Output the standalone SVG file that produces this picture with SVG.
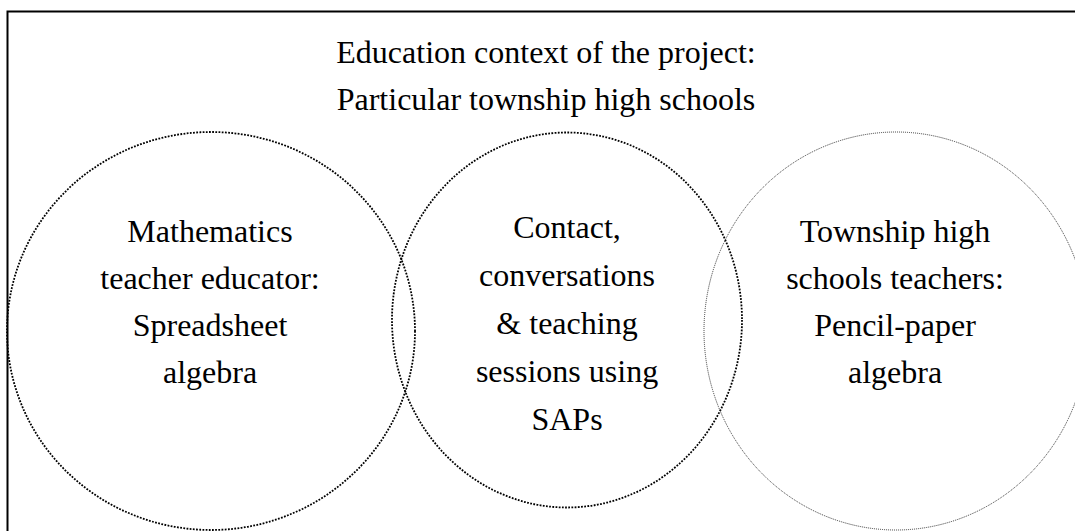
<svg xmlns="http://www.w3.org/2000/svg" width="1075" height="531" viewBox="0 0 1075 531">
  <style>
    .frame { fill: none; stroke: #000; stroke-width: 2; }
    .ring { fill: none; stroke: #000; stroke-width: 1.8; stroke-dasharray: 1.8 1.4; }
    .ring-thin { fill: none; stroke: #333; stroke-width: 1; stroke-dasharray: 1 1; }
    .label { font-family: "Liberation Serif", "Times New Roman", serif; font-size: 32px; fill: #000; text-anchor: middle; }
  </style>
  <rect width="1075" height="531" fill="#fff"/>

  <!-- outer context frame (runs past the right and bottom edges) -->
  <g id="context">
    <rect class="frame" x="7.5" y="11.5" width="1080" height="530"/>
    <text class="label" x="546" y="63">Education context of the project:</text>
    <text class="label" x="546" y="110">Particular township high schools</text>
  </g>

  <g id="educator">
    <ellipse class="ring" cx="211" cy="331" rx="204" ry="199"/>
    <text class="label" x="210" y="242">Mathematics</text>
    <text class="label" x="210" y="289">teacher educator:</text>
    <text class="label" x="210" y="336">Spreadsheet</text>
    <text class="label" x="210" y="383">algebra</text>
  </g>

  <g id="sessions">
    <ellipse class="ring" cx="567" cy="320" rx="175" ry="187.5"/>
    <text class="label" x="567" y="238">Contact,</text>
    <text class="label" x="567" y="286">conversations</text>
    <text class="label" x="567" y="334">&amp; teaching</text>
    <text class="label" x="567" y="382">sessions using</text>
    <text class="label" x="567" y="430">SAPs</text>
  </g>

  <g id="teachers">
    <ellipse class="ring-thin" cx="896" cy="331" rx="192" ry="199"/>
    <text class="label" x="895" y="242">Township high</text>
    <text class="label" x="895" y="289">schools teachers:</text>
    <text class="label" x="895" y="336">Pencil-paper</text>
    <text class="label" x="895" y="383">algebra</text>
  </g>

  <g id="connectors"/>
</svg>
